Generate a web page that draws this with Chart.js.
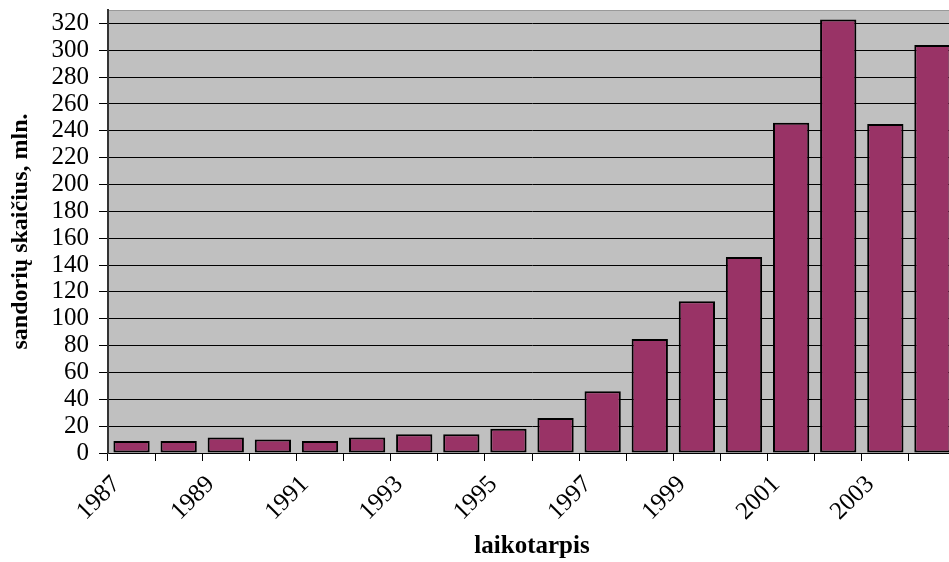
<!DOCTYPE html>
<html>
<head>
<meta charset="utf-8">
<script src="https://cdn.jsdelivr.net/npm/chart.js@4/dist/chart.umd.min.js"></script>
<style>
  html, body { margin: 0; padding: 0; background: #fff; overflow: hidden; }
  #wrap { width: 956px; height: 562px; }
</style>
</head>
<body>
<div id="wrap"><canvas id="chart"></canvas></div>
<script>
// metai ir sandorių skaičius (mln.)
const years = ['1987', '1988', '1989', '1990', '1991', '1992', '1993', '1994', '1995',
    '1996', '1997', '1998', '1999', '2000', '2001', '2002', '2003', '2004'];
const deals = [9, 9, 11.5, 10, 9, 11.5, 14, 14, 18, 26, 46, 85, 113, 146, 246, 323, 245, 304];
const yTicks = [0, 20, 40, 60, 80, 100, 120, 140, 160, 180, 200, 220, 240, 260, 280, 300, 320];

const serif = "'Liberation Serif', 'Times New Roman', serif";

const plotBackground = {
    id: 'plotBackground',
    beforeDraw(chart) {
        const { ctx, chartArea: a } = chart;
        ctx.save();
        ctx.fillStyle = '#c0c0c0';
        ctx.fillRect(a.left, a.top, a.right - a.left, a.bottom - a.top);
        ctx.strokeStyle = '#999';
        ctx.lineWidth = 1;
        ctx.beginPath();
        ctx.moveTo(a.left, a.top + 0.5);
        ctx.lineTo(a.right, a.top + 0.5);
        ctx.stroke();
        ctx.restore();
    }
};

new Chart(document.getElementById('chart').getContext('2d'), {
    type: 'bar',
    data: {
        labels: years,
        datasets: [{
            data: deals,
            backgroundColor: '#993366',
            borderColor: '#000',
            borderWidth: 2,
            borderSkipped: false,
            barPercentage: 0.77,
            categoryPercentage: 1
        }]
    },
    options: {
        responsive: true,
        maintainAspectRatio: false,
        animation: false,
        layout: { padding: { top: 10, right: 0, left: 0, bottom: 0 } },
        plugins: {
            legend: { display: false },
            tooltip: { enabled: false }
        },
        scales: {
            x: {
                offset: true,
                grid: { drawOnChartArea: false, drawTicks: true, tickLength: 8, color: '#000', offset: true },
                border: { color: '#000', width: 1 },
                ticks: {
                    autoSkip: false,
                    maxRotation: 45,
                    minRotation: 45,
                    padding: 9,
                    labelOffset: -15,
                    color: '#000',
                    font: { family: serif, size: 25 },
                    callback: (v, i) => i % 2 === 0 ? years[i] : ''
                },
                title: {
                    display: true,
                    text: 'laikotarpis',
                    color: '#000',
                    font: { family: serif, size: 25, weight: 'bold' },
                    padding: { top: 0, bottom: 0 }
                },
                afterFit(scale) {
                    scale.height = 109;
                    scale.paddingLeft = 0;
                    scale.paddingRight = 0;
                }
            },
            y: {
                min: 0,
                max: 330,
                afterBuildTicks(scale) { scale.ticks = yTicks.map(v => ({ value: v })); },
                grid: { color: '#000', lineWidth: 1, drawTicks: true, tickLength: 9 },
                border: { color: '#333', width: 2 },
                ticks: {
                    autoSkip: false,
                    padding: 10,
                    color: '#000',
                    font: { family: serif, size: 25 }
                },
                title: {
                    display: true,
                    text: 'sandorių skaičius, mln.',
                    color: '#000',
                    font: { family: serif, size: 24, weight: 'bold' },
                    padding: { top: 6, bottom: 0 }
                },
                afterFit(scale) {
                    scale.width = 108;
                    scale.paddingTop = 0;
                    scale.paddingBottom = 0;
                }
            }
        }
    },
    plugins: [plotBackground]
});
</script>
</body>
</html>
